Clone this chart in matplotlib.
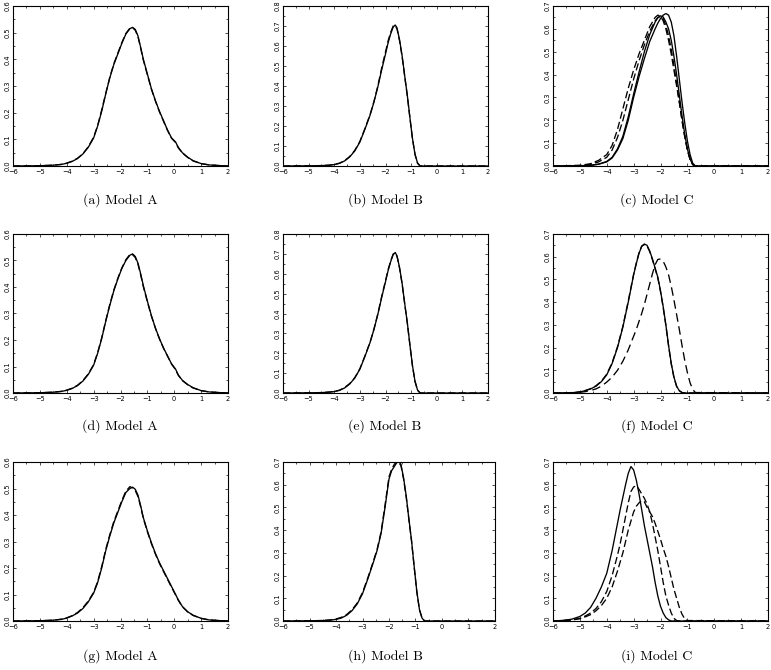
import matplotlib
matplotlib.use("Agg")
import matplotlib.pyplot as plt
from matplotlib.ticker import MultipleLocator, FormatStrFormatter, FuncFormatter

# ---------------- data ----------------
# Model A panels (a), (d), (g)
xa = [-6.0, -5.0, -4.5, -4.2, -4.0, -3.8, -3.6, -3.4, -3.2, -3.0, -2.85, -2.7, -2.55, -2.4, -2.25,
      -2.1, -1.95, -1.8, -1.65, -1.55, -1.45, -1.35, -1.25, -1.15, -1.0, -0.85, -0.7, -0.55, -0.4, -0.25,
      -0.1, 0.05, 0.15, 0.3, 0.5, 0.7, 1.0, 1.3, 1.6, 2.0]
ya_solid = [0.0, 0.001, 0.003, 0.006, 0.010, 0.017, 0.028, 0.045, 0.07, 0.105, 0.15, 0.205, 0.27, 0.33, 0.38,
            0.42, 0.46, 0.495, 0.515, 0.52, 0.512, 0.488, 0.445, 0.40, 0.345, 0.29, 0.245, 0.205, 0.17, 0.135,
            0.105, 0.09, 0.07, 0.05, 0.033, 0.02, 0.009, 0.004, 0.002, 0.0]
ya_dash = [0.0, 0.001, 0.003, 0.006, 0.011, 0.018, 0.029, 0.046, 0.072, 0.108, 0.152, 0.21, 0.272, 0.332, 0.383,
           0.423, 0.463, 0.497, 0.517, 0.518, 0.509, 0.485, 0.442, 0.397, 0.342, 0.288, 0.243, 0.203, 0.168, 0.133,
           0.104, 0.088, 0.068, 0.049, 0.032, 0.019, 0.009, 0.004, 0.002, 0.0]
yd_solid = [0.0, 0.001, 0.003, 0.006, 0.010, 0.017, 0.028, 0.045, 0.07, 0.105, 0.15, 0.205, 0.27, 0.33, 0.385,
            0.43, 0.47, 0.5, 0.52, 0.525, 0.515, 0.49, 0.45, 0.405, 0.347, 0.292, 0.245, 0.205, 0.17, 0.14,
            0.11, 0.09, 0.068, 0.048, 0.032, 0.02, 0.009, 0.004, 0.002, 0.0]
yd_dash = [0.0, 0.001, 0.003, 0.006, 0.011, 0.018, 0.029, 0.047, 0.072, 0.107, 0.153, 0.208, 0.273, 0.334, 0.388,
           0.433, 0.472, 0.503, 0.523, 0.522, 0.511, 0.486, 0.446, 0.401, 0.344, 0.29, 0.244, 0.204, 0.169, 0.139,
           0.109, 0.088, 0.067, 0.047, 0.031, 0.019, 0.009, 0.004, 0.002, 0.0]
yg_solid = [0.0, 0.001, 0.003, 0.006, 0.011, 0.019, 0.03, 0.047, 0.072, 0.105, 0.145, 0.2, 0.265, 0.32, 0.37,
            0.41, 0.45, 0.485, 0.5, 0.505, 0.497, 0.475, 0.435, 0.39, 0.34, 0.295, 0.255, 0.22, 0.19, 0.16,
            0.13, 0.1, 0.08, 0.055, 0.035, 0.022, 0.01, 0.004, 0.002, 0.0]
yg_dash = [0.0, 0.001, 0.003, 0.007, 0.012, 0.02, 0.032, 0.05, 0.075, 0.108, 0.149, 0.205, 0.27, 0.325, 0.375,
           0.415, 0.455, 0.49, 0.507, 0.502, 0.492, 0.47, 0.431, 0.387, 0.337, 0.292, 0.252, 0.217, 0.187, 0.157,
           0.127, 0.098, 0.078, 0.054, 0.034, 0.021, 0.01, 0.004, 0.002, 0.0]

# Model B panels (b), (e), (h)
xb = [-6.0, -5.0, -4.5, -4.2, -4.0, -3.8, -3.6, -3.4, -3.2, -3.0, -2.8, -2.6, -2.45, -2.3, -2.15,
      -2.0, -1.9, -1.8, -1.7, -1.62, -1.55, -1.45, -1.35, -1.25, -1.15, -1.05, -0.95, -0.85, -0.75, -0.65, 2.0]
yb_solid = [0, 0.001, 0.002, 0.004, 0.007, 0.013, 0.025, 0.045, 0.075, 0.12, 0.185, 0.255, 0.32, 0.395, 0.48,
            0.56, 0.615, 0.66, 0.695, 0.705, 0.69, 0.63, 0.55, 0.45, 0.355, 0.245, 0.14, 0.06, 0.015, 0.0, 0.0]
yb_dash = [0, 0.001, 0.002, 0.004, 0.008, 0.014, 0.026, 0.047, 0.078, 0.123, 0.188, 0.258, 0.323, 0.4, 0.49,
           0.57, 0.625, 0.668, 0.7, 0.703, 0.685, 0.625, 0.545, 0.447, 0.352, 0.243, 0.138, 0.058, 0.014, 0.0, 0.0]
ye_solid = [0, 0.001, 0.002, 0.004, 0.007, 0.013, 0.025, 0.045, 0.075, 0.12, 0.185, 0.255, 0.32, 0.395, 0.48,
            0.56, 0.615, 0.66, 0.697, 0.707, 0.69, 0.63, 0.55, 0.45, 0.355, 0.245, 0.14, 0.06, 0.015, 0.0, 0.0]
ye_dash = [0, 0.001, 0.002, 0.005, 0.008, 0.014, 0.027, 0.047, 0.077, 0.122, 0.187, 0.257, 0.322, 0.398, 0.485,
           0.565, 0.62, 0.664, 0.699, 0.704, 0.687, 0.627, 0.547, 0.448, 0.353, 0.244, 0.139, 0.059, 0.014, 0.0, 0.0]
yh_solid = [0, 0.001, 0.002, 0.004, 0.007, 0.013, 0.025, 0.045, 0.075, 0.12, 0.185, 0.255, 0.31, 0.385, 0.5,
            0.625, 0.662, 0.68, 0.698, 0.70, 0.69, 0.63, 0.55, 0.45, 0.355, 0.24, 0.13, 0.05, 0.012, 0.0, 0.0]
yh_dash = [0, 0.001, 0.002, 0.005, 0.009, 0.016, 0.028, 0.049, 0.079, 0.125, 0.19, 0.26, 0.315, 0.392, 0.51,
           0.635, 0.668, 0.69, 0.702, 0.696, 0.684, 0.625, 0.545, 0.447, 0.352, 0.238, 0.128, 0.049, 0.011, 0.0, 0.0]

# Model C panel (c)
xc = [-6.0, -5.0, -4.6, -4.3, -4.0, -3.8, -3.6, -3.4, -3.2, -3.0, -2.8, -2.6, -2.4, -2.2, -2.1,
      -2.0, -1.9, -1.8, -1.7, -1.6, -1.5, -1.4, -1.3, -1.2, -1.1, -1.0, -0.9, -0.8, -0.7, 2.0]
yc_solid1 = [0, 0.001, 0.003, 0.008, 0.018, 0.035, 0.07, 0.12, 0.2, 0.3, 0.39, 0.47, 0.545, 0.6, 0.625,
             0.645, 0.66, 0.667, 0.66, 0.63, 0.57, 0.48, 0.38, 0.28, 0.19, 0.11, 0.05, 0.012, 0.0, 0.0]
yc_solid2 = [0, 0.001, 0.003, 0.008, 0.02, 0.038, 0.075, 0.13, 0.215, 0.315, 0.41, 0.5, 0.575, 0.63, 0.648,
             0.657, 0.652, 0.63, 0.6, 0.55, 0.48, 0.4, 0.31, 0.22, 0.14, 0.075, 0.03, 0.006, 0.0, 0.0]
yc_dash1 = [0, 0.003, 0.01, 0.025, 0.05, 0.09, 0.16, 0.25, 0.34, 0.42, 0.49, 0.55, 0.61, 0.65, 0.66,
            0.655, 0.635, 0.6, 0.55, 0.49, 0.42, 0.35, 0.28, 0.2, 0.13, 0.07, 0.03, 0.007, 0.0, 0.0]
yc_dash2 = [0, 0.002, 0.007, 0.018, 0.038, 0.07, 0.125, 0.2, 0.29, 0.38, 0.46, 0.53, 0.59, 0.635, 0.65,
            0.655, 0.645, 0.615, 0.57, 0.51, 0.44, 0.36, 0.28, 0.2, 0.13, 0.07, 0.028, 0.006, 0.0, 0.0]

# Model C panel (f)
xf = [-6.0, -5.2, -5.0, -4.8, -4.6, -4.4, -4.2, -4.0, -3.8, -3.6, -3.4, -3.2, -3.0, -2.9, -2.8,
      -2.7, -2.6, -2.5, -2.4, -2.3, -2.2, -2.1, -2.0, -1.9, -1.8, -1.7, -1.6, -1.5, -1.4, -1.3,
      -1.2, -1.1, -1.0, -0.9, -0.8, -0.7, 2.0]
yf_solid = [0, 0.002, 0.005, 0.01, 0.018, 0.03, 0.05, 0.08, 0.13, 0.2, 0.29, 0.4, 0.52, 0.57, 0.615,
            0.645, 0.656, 0.65, 0.625, 0.59, 0.55, 0.51, 0.45, 0.38, 0.3, 0.21, 0.13, 0.07, 0.03, 0.01,
            0.002, 0, 0, 0, 0, 0, 0]
yf_solid2 = [0, 0.002, 0.005, 0.011, 0.019, 0.032, 0.052, 0.083, 0.133, 0.204, 0.294, 0.405, 0.523, 0.572, 0.617,
             0.647, 0.654, 0.647, 0.622, 0.587, 0.547, 0.506, 0.446, 0.376, 0.297, 0.207, 0.128, 0.068, 0.029, 0.01,
             0.002, 0, 0, 0, 0, 0, 0]
yf_dash = [0, 0.001, 0.003, 0.006, 0.011, 0.018, 0.03, 0.048, 0.07, 0.1, 0.14, 0.19, 0.25, 0.28, 0.315,
           0.35, 0.39, 0.435, 0.48, 0.525, 0.565, 0.588, 0.59, 0.58, 0.555, 0.52, 0.47, 0.41, 0.345, 0.28,
           0.21, 0.145, 0.09, 0.045, 0.015, 0.002, 0]

# Model C panel (i)
xi = [-6.0, -5.6, -5.3, -5.0, -4.8, -4.6, -4.4, -4.2, -4.0, -3.8, -3.6, -3.5, -3.4, -3.3, -3.2,
      -3.1, -3.0, -2.9, -2.8, -2.7, -2.6, -2.5, -2.4, -2.3, -2.2, -2.1, -2.0, -1.9, -1.8, -1.7,
      -1.6, -1.5, -1.4, -1.3, -1.2, -1.1, -1.0, 2.0]
yi_solid = [0, 0.003, 0.008, 0.02, 0.035, 0.06, 0.1, 0.15, 0.21, 0.31, 0.43, 0.49, 0.545, 0.6, 0.65,
            0.68, 0.665, 0.62, 0.56, 0.49, 0.42, 0.36, 0.3, 0.24, 0.17, 0.11, 0.065, 0.035, 0.015, 0.005,
            0, 0, 0, 0, 0, 0, 0, 0]
yi_dash1 = [0, 0.002, 0.005, 0.012, 0.022, 0.035, 0.055, 0.085, 0.13, 0.2, 0.29, 0.34, 0.4, 0.46, 0.52,
            0.57, 0.59, 0.596, 0.58, 0.56, 0.54, 0.515, 0.48, 0.43, 0.37, 0.31, 0.24, 0.17, 0.11, 0.07,
            0.035, 0.012, 0.002, 0, 0, 0, 0, 0]
yi_dash2 = [0, 0.002, 0.004, 0.01, 0.018, 0.028, 0.045, 0.068, 0.1, 0.15, 0.22, 0.26, 0.3, 0.35, 0.4,
            0.44, 0.48, 0.505, 0.52, 0.53, 0.525, 0.5, 0.48, 0.46, 0.43, 0.395, 0.36, 0.32, 0.285, 0.24,
            0.19, 0.14, 0.1, 0.06, 0.03, 0.01, 0.002, 0]

captions = ["(a) Model A", "(b) Model B", "(c) Model C",
            "(d) Model A", "(e) Model B", "(f) Model C",
            "(g) Model A", "(h) Model B", "(i) Model C"]
ymaxes = [0.6, 0.8, 0.7, 0.6, 0.8, 0.7, 0.6, 0.7, 0.7]

SOLID = "-"
DASH = (0, (5.5, 2.5))
LONGDASH = (0, (6.5, 3.5))

curves = [
    [(xa, ya_solid, SOLID), (xa, ya_dash, DASH)],
    [(xb, yb_solid, SOLID), (xb, yb_dash, DASH)],
    [(xc, yc_solid1, SOLID), (xc, yc_solid2, SOLID), (xc, yc_dash1, DASH), (xc, yc_dash2, DASH)],
    [(xa, yd_solid, SOLID), (xa, yd_dash, DASH)],
    [(xb, ye_solid, SOLID), (xb, ye_dash, DASH)],
    [(xf, yf_solid, SOLID), (xf, yf_solid2, DASH), (xf, yf_dash, LONGDASH)],
    [(xa, yg_solid, SOLID), (xa, yg_dash, DASH)],
    [(xb, yh_solid, SOLID), (xb, yh_dash, DASH)],
    [(xi, yi_solid, SOLID), (xi, yi_dash1, DASH), (xi, yi_dash2, DASH)],
]

# ---------------- layout (pixels) ----------------
W, H = 771, 670
col_lr = [[(13, 228), (283, 488), (553, 768)],
          [(13, 228), (283, 488), (553, 768)],
          [(13, 228), (283, 495), (553, 768)]]
row_tb = [(6, 166), (234, 393), (462, 621)]
cap_x = [120, 385, 657]
cap_y = [200, 426, 656]

fig = plt.figure(figsize=(W / 100, H / 100), dpi=100)

xfmt = FuncFormatter(lambda v, p: f"{int(round(v))}".replace("-", "\u2212"))

for k in range(9):
    r, c = divmod(k, 3)
    l, rr = col_lr[r][c]
    t, b = row_tb[r]
    ax = fig.add_axes([l / W, 1 - b / H, (rr - l) / W, (b - t) / H])
    for (x, y, ls) in curves[k]:
        ax.plot(x, y, color="black", lw=0.95, linestyle=ls)
    ax.set_xlim(-6, 2)
    ax.set_ylim(0, ymaxes[k])
    ax.xaxis.set_major_locator(MultipleLocator(1))
    ax.xaxis.set_minor_locator(MultipleLocator(0.5))
    ax.yaxis.set_major_locator(MultipleLocator(0.1))
    ax.yaxis.set_minor_locator(MultipleLocator(0.05))
    ax.yaxis.set_major_formatter(FormatStrFormatter("%.1f"))
    ax.xaxis.set_major_formatter(xfmt)
    ax.tick_params(which="both", direction="in", top=True, right=True, width=0.6, color="#333333")
    ax.tick_params(which="major", length=2.5, labelsize=4.8, pad=2)
    ax.tick_params(which="minor", length=1.5)
    for lab in ax.get_yticklabels():
        lab.set_rotation(90)
        lab.set_va("center")
    for sp in ax.spines.values():
        sp.set_linewidth(0.8)
    fig.text(cap_x[c] / W, 1 - cap_y[r] / H, captions[k], ha="center", va="center",
             fontsize=10, family="cmr10")

fig.savefig("out.png", dpi=100)
